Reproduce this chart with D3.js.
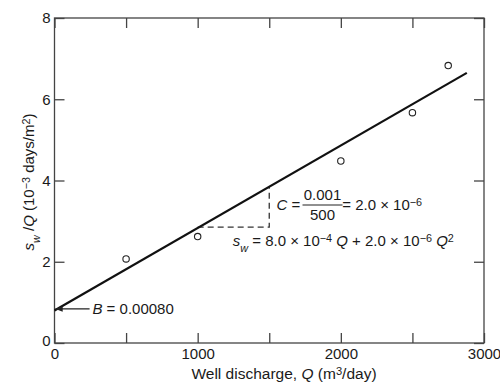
<!DOCTYPE html>
<html>
<head>
<meta charset="utf-8">
<script src="https://cdn.jsdelivr.net/npm/d3@7"></script>
<style>
  body { margin: 0; background: #fff; }
  svg text { font-family: "Liberation Sans", Arial, sans-serif; fill: #1a1a1a; }
</style>
</head>
<body>
<div id="chart"></div>
<script>
(function() {
  'use strict';

  // Observed points: Q (m3/day) vs sw/Q (10^-3 days/m2)
  const pointQ = [500, 1000, 2000, 2500, 2750];
  const pointSQ = [2.07, 2.62, 4.48, 5.67, 6.83];

  // Fitted straight line (endpoints)
  const lineQ = [0, 2880];
  const lineSQ = [0.8, 6.65];

  // Slope triangle (dashed)
  const triQ = [1000, 1500, 1500];
  const triSQ = [2.85, 2.85, 3.85];

  const xTicks = [0, 500, 1000, 1500, 2000, 2500, 3000];
  const xLabels = [0, 1000, 2000, 3000];
  const yTicks = [0, 2, 4, 6, 8];

  const width = 500, height = 390;
  const margin = { left: 54.5, right: 16, top: 18, bottom: 47 };
  const fs = 15;

  const svg = d3.select('#chart')
    .append('svg')
    .attr('width', width)
    .attr('height', height);

  const x = d3.scaleLinear().domain([0, 3000]).range([margin.left, width - margin.right]);
  const y = d3.scaleLinear().domain([0, 8]).range([height - margin.bottom, margin.top]);

  const axisColor = '#444';

  // Frame
  svg.append('rect')
    .attr('x', x(0)).attr('y', y(8))
    .attr('width', x(3000) - x(0)).attr('height', y(0) - y(8))
    .attr('fill', 'none').attr('stroke', axisColor).attr('stroke-width', 1.3);

  function styleAxis(g) {
    g.select('.domain').remove();
    g.selectAll('.tick line').attr('stroke', axisColor).attr('stroke-width', 1.3);
    g.selectAll('.tick text')
      .attr('font-size', 15)
      .attr('fill', '#1a1a1a')
      .attr('font-family', '"Liberation Sans", Arial, sans-serif');
  }

  // Bottom axis (inward ticks)
  svg.append('g')
    .attr('transform', `translate(0,${y(0)})`)
    .call(d3.axisBottom(x).tickValues(xTicks).tickSize(-10).tickPadding(5.5)
      .tickFormat(d => xLabels.includes(d) ? d : ''))
    .call(styleAxis);

  // Top axis (ticks only)
  svg.append('g')
    .attr('transform', `translate(0,${y(8)})`)
    .call(d3.axisTop(x).tickValues(xTicks).tickSize(-10).tickFormat(''))
    .call(styleAxis);

  // Left axis
  svg.append('g')
    .attr('transform', `translate(${x(0)},0)`)
    .call(d3.axisLeft(y).tickValues(yTicks).tickSize(-10).tickPadding(4))
    .call(styleAxis)
    .call(g => g.selectAll('.tick text').filter(d => d === 0).attr('dy', '0.15em'));

  // Right axis
  svg.append('g')
    .attr('transform', `translate(${x(3000)},0)`)
    .call(d3.axisRight(y).tickValues(yTicks).tickSize(-10).tickFormat(''))
    .call(styleAxis);

  // Dashed slope triangle
  const tri = d3.line().x((d, i) => x(triQ[i])).y((d, i) => y(triSQ[i]));
  svg.append('path')
    .attr('d', tri(triQ))
    .attr('fill', 'none')
    .attr('stroke', '#333')
    .attr('stroke-width', 1.3)
    .attr('stroke-dasharray', '6,4');

  // Fitted line
  const fit = d3.line().x((d, i) => x(lineQ[i])).y((d, i) => y(lineSQ[i]));
  svg.append('path')
    .attr('d', fit(lineQ))
    .attr('fill', 'none')
    .attr('stroke', '#111')
    .attr('stroke-width', 2.2);

  // Data points
  svg.append('g')
    .selectAll('circle')
    .data(pointQ)
    .join('circle')
    .attr('cx', d => x(d))
    .attr('cy', (d, i) => y(pointSQ[i]))
    .attr('r', 3.2)
    .attr('fill', '#fff')
    .attr('stroke', '#222')
    .attr('stroke-width', 1.1);

  // Arrow to intercept B
  svg.append('defs').append('marker')
    .attr('id', 'arrowhead')
    .attr('viewBox', '0 -5 10 10')
    .attr('refX', 10)
    .attr('refY', 0)
    .attr('markerWidth', 7)
    .attr('markerHeight', 6)
    .attr('orient', 'auto')
    .append('path')
    .attr('d', 'M0,-4L10,0L0,4')
    .attr('fill', '#222');

  svg.append('line')
    .attr('x1', x(245)).attr('y1', y(0.84))
    .attr('x2', x(0) + 1).attr('y2', y(0.84))
    .attr('stroke', '#222')
    .attr('stroke-width', 1.2)
    .attr('marker-end', 'url(#arrowhead)');

  // Rich text helper: segments of {t, it, sup, sub}
  function rich(sel, parts, size) {
    sel.attr('font-size', size);
    parts.forEach(p => {
      const ts = sel.append('tspan').text(p.t);
      if (p.it) ts.attr('font-style', 'italic');
      if (p.sup) ts.attr('font-size', size * 0.72).attr('baseline-shift', '35%');
      if (p.sub) ts.attr('font-size', size * 0.72).attr('baseline-shift', 'sub');
    });
    return sel;
  }

  // B label
  rich(svg.append('text')
    .attr('x', x(265)).attr('y', y(0.84) + 5.5),
    [{ t: 'B', it: true }, { t: ' = 0.00080' }], fs);

  // C label with fraction
  rich(svg.append('text').attr('x', x(1550)).attr('y', 210),
    [{ t: 'C', it: true }, { t: ' =' }], fs);
  svg.append('text').attr('x', x(1872)).attr('y', 200)
    .attr('text-anchor', 'middle').attr('font-size', fs).text('0.001');
  svg.append('line')
    .attr('x1', x(1872) - 20).attr('x2', x(1872) + 20)
    .attr('y1', 205).attr('y2', 205)
    .attr('stroke', '#222').attr('stroke-width', 1.2);
  svg.append('text').attr('x', x(1872)).attr('y', 220)
    .attr('text-anchor', 'middle').attr('font-size', fs).text('500');
  rich(svg.append('text').attr('x', x(2010)).attr('y', 210),
    [{ t: '= 2.0 × 10' }, { t: '−6', sup: true }], fs);

  // sw equation
  rich(svg.append('text').attr('x', x(1245)).attr('y', 246),
    [{ t: 's', it: true }, { t: 'w', it: true, sub: true }, { t: ' = 8.0 × 10' }, { t: '−4', sup: true },
     { t: ' Q', it: true }, { t: ' + 2.0 × 10' }, { t: '−6', sup: true }, { t: ' Q', it: true },
     { t: '2', sup: true }], fs);

  // Axis titles
  rich(svg.append('text')
    .attr('x', 284).attr('y', 379)
    .attr('text-anchor', 'middle'),
    [{ t: 'Well discharge, ' }, { t: 'Q', it: true }, { t: ' (m' }, { t: '3', sup: true }, { t: '/day)' }], 15.5);

  rich(svg.append('text')
    .attr('transform', 'translate(34,182) rotate(-90)')
    .attr('text-anchor', 'middle'),
    [{ t: 's', it: true }, { t: 'w', it: true, sub: true }, { t: ' /' }, { t: 'Q', it: true },
     { t: ' (10' }, { t: '−3', sup: true }, { t: ' days/m' }, { t: '2', sup: true }, { t: ')' }], 15);
})();
</script>
</body>
</html>
